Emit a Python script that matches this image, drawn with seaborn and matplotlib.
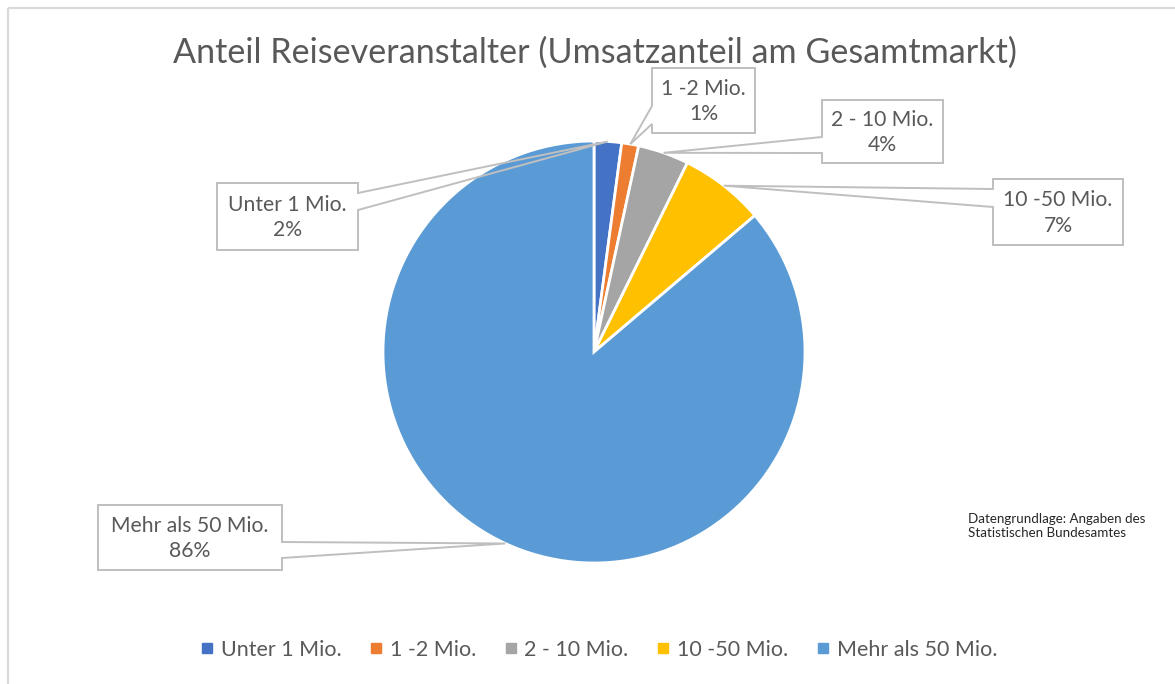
import matplotlib
matplotlib.use("Agg")
import matplotlib.pyplot as plt
import seaborn as sns
import numpy as np
from matplotlib.lines import Line2D
from matplotlib.patches import Polygon

# ---- data ----
categories = ["Unter 1 Mio.", "1 -2 Mio.", "2 - 10 Mio.", "10 -50 Mio.", "Mehr als 50 Mio."]
shares = [2.1, 1.3, 3.9, 6.5, 86.2]
pct_labels = ["2%", "1%", "4%", "7%", "86%"]
colors = ["#4472C4", "#ED7D31", "#A5A5A5", "#FFC000", "#5B9BD5"]
title = "Anteil Reiseveranstalter (Umsatzanteil am Gesamtmarkt)"
source_note = "Datengrundlage: Angaben des\nStatistischen Bundesamtes"

sns.set_theme(style="white")
plt.rcParams["font.family"] = ["Lato", "DejaVu Sans"]
txt_col = "#595959"

W, H = 1175, 684
fig = plt.figure(figsize=(W / 100, H / 100), dpi=100)
fig.patch.set_facecolor("white")

# pie axes (square in pixels)
cx, cy, r = 594, 352, 211
ax = fig.add_axes([(cx - r) / W, (H - cy - r) / H, 2 * r / W, 2 * r / H])
ax.pie(shares, colors=colors, startangle=90, counterclock=False,
       wedgeprops=dict(edgecolor="white", linewidth=2))
ax.set_xlim(-1, 1)
ax.set_ylim(-1, 1)
ax.set_aspect("equal")
ax.axis("off")

# overlay axes in pixel coordinates (y downwards)
ov = fig.add_axes([0, 0, 1, 1], zorder=5)
ov.set_xlim(0, W)
ov.set_ylim(H, 0)
ov.axis("off")
ov.patch.set_alpha(0)

# frame lines
ov.plot([8, W], [8, 8], color="#d9d9d9", lw=1.6, solid_capstyle="butt")
ov.plot([8, 8], [8, H], color="#d9d9d9", lw=1.6, solid_capstyle="butt")

# title
ov.text(595, 53, title, ha="center", va="center", fontsize=24.6, color=txt_col)

# callout layout: box (x0, y0, x1, y1), side, base (ya, yb)
boxes = [
    ((217, 183, 358, 250), "right", (193, 210)),
    ((652, 68, 755, 133), "left", (106, 124)),
    ((822, 100, 943, 163), "left", (137, 153)),
    ((993, 179, 1123, 245), "left", (189, 207)),
    ((98, 505, 282, 570), "right", (542, 558)),
]

fig.canvas.draw()
cum = np.cumsum(shares) - np.array(shares) / 2
total = sum(shares)
for i, (box, side, (ya, yb)) in enumerate(boxes):
    theta = np.deg2rad(90 - 360 * cum[i] / total)
    disp = ax.transData.transform((np.cos(theta), np.sin(theta)))
    tx, ty = ov.transData.inverted().transform(disp)
    x0, y0, x1, y1 = box
    if side == "right":
        verts = [(x0, y0), (x1, y0), (x1, ya), (tx, ty), (x1, yb), (x1, y1), (x0, y1)]
    else:
        verts = [(x0, y0), (x1, y0), (x1, y1), (x0, y1), (x0, yb), (tx, ty), (x0, ya)]
    ov.add_patch(Polygon(verts, closed=True, fill=False, edgecolor="#bfbfbf", lw=1.4))
    ov.text((x0 + x1) / 2, (y0 + y1) / 2 + 1, f"{categories[i]}\n{pct_labels[i]}",
            ha="center", va="center", fontsize=15.2, color=txt_col, linespacing=1.35)

# source note
ov.text(968, 526, source_note, ha="left", va="center", fontsize=9.6,
        color="#262626", linespacing=1.25)

# legend
handles = [Line2D([0], [0], marker="s", linestyle="none", markersize=6.5,
                  markerfacecolor=c, markeredgecolor=c) for c in colors]
leg = fig.legend(handles, categories, loc="center", bbox_to_anchor=(0.51, 1 - 650 / H),
                 ncol=5, frameon=False, fontsize=15.5, handlelength=0.5,
                 handletextpad=0.4, columnspacing=1.35)
for t in leg.get_texts():
    t.set_color(txt_col)

fig.savefig("out.png", dpi=100, facecolor="white")
